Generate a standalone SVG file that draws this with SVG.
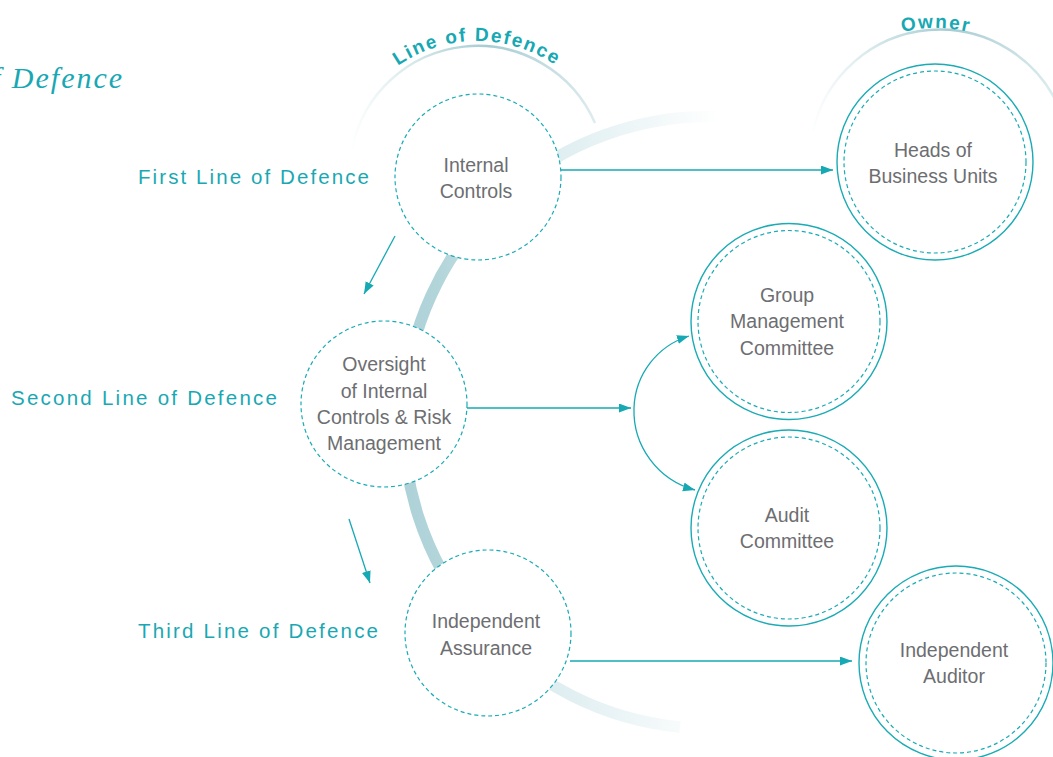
<svg xmlns="http://www.w3.org/2000/svg" width="1053" height="757" viewBox="0 0 1053 757">
  <defs>
    <style>
      .lbl { font-family: "Liberation Sans", Arial, sans-serif; font-size: 20.5px; fill: #19a8b3; }
      .nt { font-family: "Liberation Sans", Arial, sans-serif; font-size: 19.5px; fill: #6d6e71; text-anchor: middle; }
      .arc { font-family: "Liberation Sans", Arial, sans-serif; font-size: 19px; font-weight: bold; fill: #16a8b3; letter-spacing: 1.8px; }
      .dash { fill: #ffffff; stroke: #1aabb5; stroke-width: 1.2; stroke-dasharray: 4 3; }
      .outer { fill: #ffffff; stroke: #1aabb5; stroke-width: 1.4; }
      .inner { fill: none; stroke: #1aabb5; stroke-width: 1.2; stroke-dasharray: 4 3; }
      .conn { fill: none; stroke: #16a9b4; stroke-width: 1.3; marker-end: url(#ah); }
    </style>
    <marker id="ah" markerUnits="userSpaceOnUse" markerWidth="13" markerHeight="10" refX="12" refY="4.5" orient="auto">
      <path d="M0,0 L12,4.5 L0,9 z" fill="#16a9b4"/>
    </marker>
    <linearGradient id="band" gradientUnits="userSpaceOnUse" x1="380" y1="0" x2="720" y2="0">
      <stop offset="0" stop-color="#a9cfd5"/>
      <stop offset="0.17" stop-color="#b2d5da"/>
      <stop offset="0.5" stop-color="#ddedf0"/>
      <stop offset="1" stop-color="#ffffff"/>
    </linearGradient>
    <linearGradient id="thin1" gradientUnits="userSpaceOnUse" x1="350" y1="0" x2="600" y2="0">
      <stop offset="0" stop-color="#a6ccd2" stop-opacity="0"/>
      <stop offset="0.55" stop-color="#a6ccd2" stop-opacity="1"/>
      <stop offset="1" stop-color="#a6ccd2" stop-opacity="0.35"/>
    </linearGradient>
    <linearGradient id="thin2" gradientUnits="userSpaceOnUse" x1="810" y1="0" x2="1060" y2="0">
      <stop offset="0" stop-color="#a6ccd2" stop-opacity="0"/>
      <stop offset="0.55" stop-color="#a6ccd2" stop-opacity="1"/>
      <stop offset="1" stop-color="#a6ccd2" stop-opacity="0.35"/>
    </linearGradient>
    <path id="p1" d="M 338,180 A 139 139 0 0 1 616,180"/>
    <path id="p2" d="M 799,165 A 137 137 0 0 1 1073,165"/>
  </defs>

  <rect width="1053" height="757" fill="#ffffff"/>

  <!-- decorative arcs -->
  <g id="decor">
    <path d="M 716,116.5 A 306 306 0 0 0 680,727" fill="none" stroke="url(#band)" stroke-width="11.5"/>
    <path d="M 352,149 A 128 128 0 0 1 595,123" fill="none" stroke="url(#thin1)" stroke-width="2.5"/>
    <path d="M 813,131 A 130 130 0 0 1 1060,110" fill="none" stroke="url(#thin2)" stroke-width="2.5"/>
    <text class="arc"><textPath href="#p1" startOffset="50%" text-anchor="middle">Line of Defence</textPath></text>
    <text class="arc"><textPath href="#p2" startOffset="50%" text-anchor="middle">Owner</textPath></text>
    <text x="-25" y="88" font-family="'Liberation Serif', 'Times New Roman', serif" font-style="italic" font-size="30" letter-spacing="2" fill="#19a8b3">of Defence</text>
  </g>

  <!-- left labels -->
  <g id="labels">
    <text class="lbl" x="138" y="184" textLength="231" lengthAdjust="spacing">First Line of Defence</text>
    <text class="lbl" x="11" y="405" textLength="266" lengthAdjust="spacing">Second Line of Defence</text>
    <text class="lbl" x="138" y="638" textLength="240" lengthAdjust="spacing">Third Line of Defence</text>
  </g>

  <!-- connectors -->
  <g id="connectors">
    <path class="conn" d="M 561,170 H 833"/>
    <path class="conn" d="M 467,408 H 631"/>
    <path class="conn" d="M 634,408 A 78 78 0 0 1 689,336"/>
    <path class="conn" d="M 634,408 A 82 82 0 0 0 695,490"/>
    <path class="conn" d="M 570,661 H 852"/>
    <path class="conn" d="M 395,236 L 364,294"/>
    <path class="conn" d="M 349,519 L 370,583"/>
  </g>

  <g id="internal-controls">
    <circle class="dash" cx="478" cy="177" r="83"/>
    <text class="nt" x="476" y="172">Internal</text>
    <text class="nt" x="476" y="198">Controls</text>
  </g>

  <g id="oversight">
    <circle class="dash" cx="384" cy="404" r="83"/>
    <text class="nt" x="384" y="371">Oversight</text>
    <text class="nt" x="384" y="397.5">of Internal</text>
    <text class="nt" x="384" y="424">Controls &amp; Risk</text>
    <text class="nt" x="384" y="450">Management</text>
  </g>

  <g id="independent-assurance">
    <circle class="dash" cx="488" cy="633" r="83"/>
    <text class="nt" x="486" y="628">Independent</text>
    <text class="nt" x="486" y="655">Assurance</text>
  </g>

  <g id="heads-of-business-units">
    <circle class="outer" cx="935" cy="162" r="98"/>
    <circle class="inner" cx="935" cy="162" r="91"/>
    <text class="nt" x="933" y="157">Heads of</text>
    <text class="nt" x="933" y="183">Business Units</text>
  </g>

  <g id="group-management-committee">
    <circle class="outer" cx="789" cy="321.5" r="98"/>
    <circle class="inner" cx="789" cy="321.5" r="91"/>
    <text class="nt" x="787" y="302">Group</text>
    <text class="nt" x="787" y="328">Management</text>
    <text class="nt" x="787" y="355">Committee</text>
  </g>

  <g id="audit-committee">
    <circle class="outer" cx="789" cy="528" r="98"/>
    <circle class="inner" cx="789" cy="528" r="91"/>
    <text class="nt" x="787" y="522">Audit</text>
    <text class="nt" x="787" y="548">Committee</text>
  </g>

  <g id="independent-auditor">
    <circle class="outer" cx="956" cy="663" r="97"/>
    <circle class="inner" cx="956" cy="663" r="90"/>
    <text class="nt" x="954" y="657">Independent</text>
    <text class="nt" x="954" y="683">Auditor</text>
  </g>
</svg>
